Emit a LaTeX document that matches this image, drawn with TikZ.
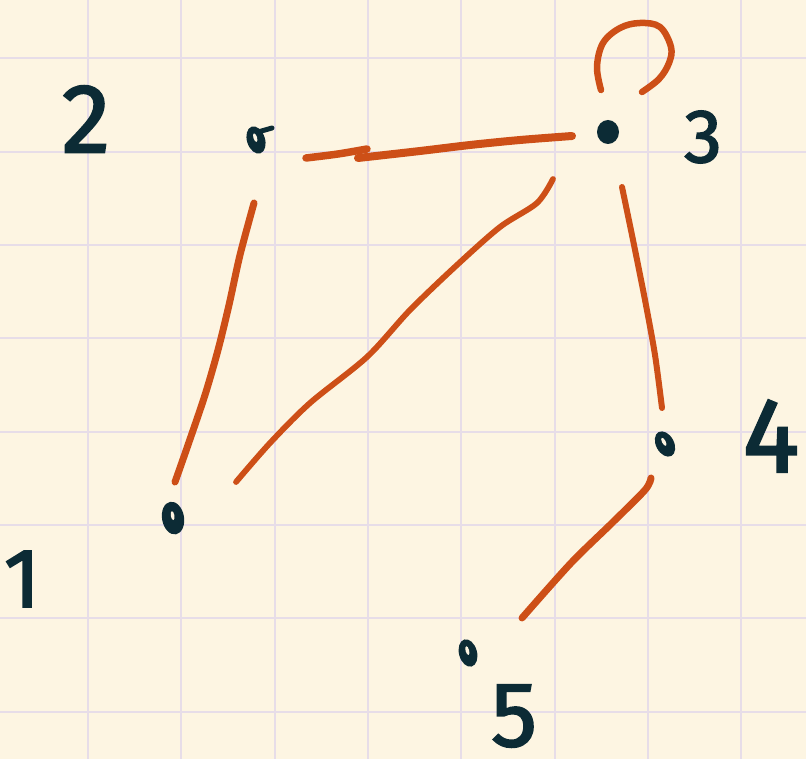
\documentclass[tikz,border=0pt]{standalone}
\usepackage{fontspec}
\setmainfont{Fira Sans}
\newfontfamily\digitfont[FakeBold=2]{Fira Sans}
\definecolor{paper}{HTML}{FDF5E2}
\definecolor{gridc}{HTML}{E7DDE8}
\definecolor{ink}{HTML}{0C2B35}
\definecolor{rust}{HTML}{CD4F17}
\tikzset{
  vert/.style={shape=circle, inner sep=0pt, minimum size=1pt},
  numlabel/.style={text=ink, inner sep=0pt, font=\digitfont#1},
  link/.style={draw=rust, line width=7pt, line cap=round, line join=round},
  gridline/.style={draw=gridc, line width=2.2pt}
}
\begin{document}
\begin{tikzpicture}[x=1pt,y=-1pt]
\fill[paper] (0,0) rectangle (806,759);
\useasboundingbox (0,0) rectangle (806,759);
% grid
\foreach \k in {0,...,7} {
  \draw[gridline] ({88+93.33*\k},0) -- ({88+93.33*\k},759);
  \draw[gridline] (0,{58.3+93.33*\k}) -- (806,{58.3+93.33*\k});
}
% vertices
\node[vert] (n2) at (256,140) {};
\node[vert] (n3) at (608,132) {};
\node[vert] (n4) at (665,444) {};
\node[vert] (n1) at (173,518) {};
\node[vert] (n5) at (468,653) {};
% hand-drawn dots: filled ellipse with a small hole
\foreach \n/\r/\a/\b in {n2/18/9/14, n4/28/9/13.5, n1/10/11/16.5, n5/15/9/14} {
  \fill[ink, rotate around={\r:(\n.center)}] (\n.center) ellipse [x radius=\a pt, y radius=\b pt];
  \fill[paper, rotate around={\r:(\n.center)}] ([yshift=2.5pt]\n.center) ellipse [x radius=1.8pt, y radius=4.5pt];
}
\fill[ink] (n3.center) ellipse [x radius=11pt, y radius=12pt];
% tail of the dot of vertex 2
\draw[ink, line width=5pt, line cap=round] ([shift={(2,-8)}]n2.center) -- ([shift={(16,-12)}]n2.center);
% labels
\node[numlabel=\fontsize{98}{98}\selectfont] (l2) at (86,119) {2};
\node[numlabel=\fontsize{76}{76}\selectfont] (l3) at (703,137) {3};
\node[numlabel=\fontsize{106}{106}\selectfont] (l4) at (771,436) {4};
\node[numlabel=\fontsize{84}{84}\selectfont] (l1) at (22,579) {1};
\node[numlabel=\fontsize{92}{92}\selectfont] (l5) at (514,716) {5};
% edges
\draw[link, line width=7.5pt] plot[smooth, tension=0.5] coordinates {([shift={(50,18)}]n2.center) (338,154) ([shift={(111,9)}]n2.center)};
\draw[link, line width=8pt] plot[smooth, tension=0.5] coordinates {([shift={(102,18)}]n2.center) (420,151) (470,145) (520,140) ([shift={(-36,4)}]n3.center)};
\draw[link] plot[smooth, tension=0.5] coordinates {([shift={(-2,63)}]n2.center) (240,255) (229,305) (218,350) (205,395) (188,445) ([shift={(2,-36)}]n1.center)};
\draw[link, line width=5.8pt] plot[smooth, tension=0.5] coordinates {([shift={(-55,47)}]n3.center) (537,203) (500,227) (457,265) (410,310) (367,357) (310,403) (270,443) ([shift={(63,-36)}]n1.center)};
\draw[link, line width=6pt] plot[smooth, tension=0.5] coordinates {([shift={(14,55)}]n3.center) (633,240) (645,300) (655,355) ([shift={(-3,-36)}]n4.center)};
\draw[link] plot[smooth, tension=0.5] coordinates {([shift={(-14,34)}]n4.center) (645,490) (612,523) (571,563) ([shift={(54,-35)}]n5.center)};
\draw[link, line width=6.5pt] plot[smooth, tension=0.6] coordinates {([shift={(-7,-42)}]n3.center) (597,67) (603,43) (620,28) (640,23) (660,27) (671,47) (669,63) (659,79) ([shift={(34,-40)}]n3.center)};
\end{tikzpicture}
\end{document}
